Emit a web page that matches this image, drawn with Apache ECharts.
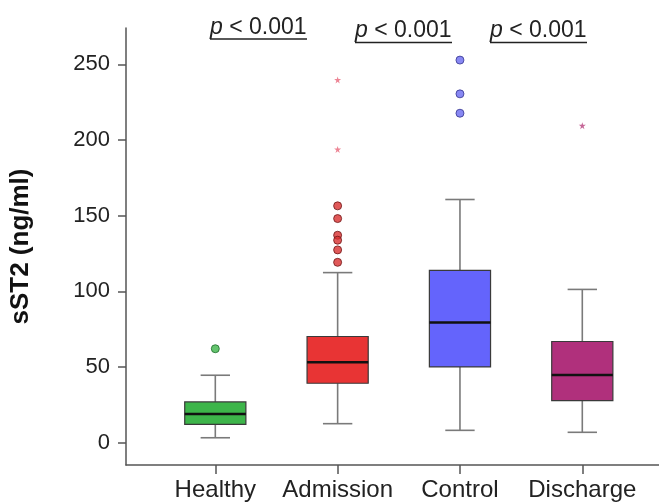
<!DOCTYPE html>
<html>
<head>
<meta charset="utf-8">
<script src="https://cdn.jsdelivr.net/npm/echarts@6/dist/echarts.min.js"></script>
<style>
  html, body { margin: 0; padding: 0; background: #fff; }
  #main { width: 659px; height: 503px; }
</style>
</head>
<body>
<div id="main"></div>
<script>
var categories = ['Healthy', 'Admission', 'Control', 'Discharge'];
// [min, Q1, median, Q3, max]
var boxHealthy = [3.3, 12.1, 19.0, 27.0, 44.6];
var boxAdmission = [12.6, 39.3, 53.2, 70.2, 112.4];
var boxControl = [8.2, 50.1, 79.5, 113.9, 160.7];
var boxDischarge = [6.9, 27.8, 44.8, 66.9, 101.3];
// outliers (circles) and extremes (stars)
var outHealthy = [62.1];
var outAdmission = [156.5, 148.1, 137.1, 133.8, 127.4, 119.2];
var extAdmission = [239.7, 193.8];
var outControl = [252.8, 230.5, 217.7];
var extDischarge = [209.5];
var yTicks = [0, 50, 100, 150, 200, 250];
var boxColors = ['#3db54a', '#e83434', '#6464fc', '#b0307c'];

var starPath = 'path://M50,0 L61,35 L98,35 L68,57 L79,91 L50,70 L21,91 L32,57 L2,35 L39,35 Z';

var boxes = [boxHealthy, boxAdmission, boxControl, boxDischarge];
var boxData = boxes.map(function (b, i) {
    return [i].concat(b);
});

function pts(idx, arr) {
    return arr.map(function (v) { return [idx, v]; });
}

var pText = {
    rich: {
        i: { fontStyle: 'italic', fontFamily: 'Liberation Sans', fontSize: 23, fill: '#222' },
        n: { fontFamily: 'Liberation Sans', fontSize: 23, fill: '#222' }
    },
    text: '{i|p}{n| < 0.001}'
};

var myChart = echarts.init(document.getElementById('main'));
var option = {
    animation: false,
    backgroundColor: '#fff',
    grid: {
        left: 116.7,
        right: 0,
        top: 28,
        bottom: 38
    },
    xAxis: {
        type: 'value',
        min: -0.73,
        max: 3.627,
        splitLine: { show: false },
        axisLine: { onZero: false, lineStyle: { color: '#555', width: 1.5 } },
        axisTick: {
            length: 9,
            customValues: [0, 1, 2, 3],
            lineStyle: { color: '#555', width: 1.5 }
        },
        axisLabel: {
            customValues: [0, 1, 2, 3],
            margin: 13,
            fontFamily: 'Liberation Sans',
            fontSize: 24,
            color: '#222',
            formatter: function (v) { return categories[Math.round(v)]; }
        }
    },
    yAxis: {
        type: 'value',
        min: -14.7,
        max: 274,
        name: 'sST2 (ng/ml)',
        nameLocation: 'middle',
        nameRotate: 90,
        nameGap: 92,
        nameTextStyle: {
            fontFamily: 'Liberation Sans',
            fontWeight: 'bold',
            fontSize: 26,
            color: '#111'
        },
        splitLine: { show: false },
        axisLine: { show: true, onZero: false, lineStyle: { color: '#555', width: 1.5 } },
        axisTick: {
            show: true,
            length: 8,
            customValues: yTicks,
            lineStyle: { color: '#555', width: 1.5 }
        },
        axisLabel: {
            customValues: yTicks,
            margin: 16,
            fontFamily: 'Liberation Sans',
            fontSize: 22,
            color: '#222'
        }
    },
    series: [
        {
            type: 'custom',
            name: 'box',
            data: boxData,
            renderItem: function (params, api) {
                var x = api.value(0);
                var band = api.size([1, 0])[0];
                var half = band * 0.25;
                var capHalf = band * 0.12;
                var pMin = api.coord([x, api.value(1)]);
                var pQ1 = api.coord([x, api.value(2)]);
                var pMed = api.coord([x, api.value(3)]);
                var pQ3 = api.coord([x, api.value(4)]);
                var pMax = api.coord([x, api.value(5)]);
                var cx = pMin[0];
                var whisker = { stroke: '#7a7a7a', lineWidth: 1.6 };
                return {
                    type: 'group',
                    children: [
                        { type: 'line', shape: { x1: cx, y1: pMin[1], x2: cx, y2: pQ1[1] }, style: whisker },
                        { type: 'line', shape: { x1: cx, y1: pQ3[1], x2: cx, y2: pMax[1] }, style: whisker },
                        { type: 'line', shape: { x1: cx - capHalf, y1: pMin[1], x2: cx + capHalf, y2: pMin[1] }, style: whisker },
                        { type: 'line', shape: { x1: cx - capHalf, y1: pMax[1], x2: cx + capHalf, y2: pMax[1] }, style: whisker },
                        {
                            type: 'rect',
                            shape: { x: cx - half, y: pQ3[1], width: half * 2, height: pQ1[1] - pQ3[1] },
                            style: { fill: boxColors[params.dataIndex], stroke: '#3a3a3a', lineWidth: 1.2 }
                        },
                        {
                            type: 'line',
                            shape: { x1: cx - half, y1: pMed[1], x2: cx + half, y2: pMed[1] },
                            style: { stroke: '#111', lineWidth: 2.5 }
                        }
                    ]
                };
            }
        },
        {
            type: 'scatter',
            data: pts(0, outHealthy),
            symbolSize: 8,
            itemStyle: { color: '#3db54a', borderColor: '#1d6b2a', borderWidth: 1 }
        },
        {
            type: 'scatter',
            data: pts(1, outAdmission),
            symbolSize: 8,
            itemStyle: { color: '#d83030', borderColor: '#6e1616', borderWidth: 1 }
        },
        {
            type: 'scatter',
            data: pts(1, extAdmission),
            symbol: starPath,
            symbolSize: 7,
            itemStyle: { color: '#e8677a' }
        },
        {
            type: 'scatter',
            data: pts(2, outControl),
            symbolSize: 8,
            itemStyle: { color: '#6a6af0', borderColor: '#35358f', borderWidth: 1 }
        },
        {
            type: 'scatter',
            data: pts(3, extDischarge),
            symbol: starPath,
            symbolSize: 7,
            itemStyle: { color: '#b8427e' }
        }
    ],
    graphic: [
        { type: 'text', left: 210, top: 16, style: pText },
        { type: 'line', shape: { x1: 210, y1: 39, x2: 307, y2: 39 }, style: { stroke: '#222', lineWidth: 1.3 } },
        { type: 'text', left: 355, top: 19.5, style: pText },
        { type: 'line', shape: { x1: 355, y1: 42.5, x2: 452, y2: 42.5 }, style: { stroke: '#222', lineWidth: 1.3 } },
        { type: 'text', left: 490, top: 19.5, style: pText },
        { type: 'line', shape: { x1: 490, y1: 42.5, x2: 587, y2: 42.5 }, style: { stroke: '#222', lineWidth: 1.3 } }
    ]
};
myChart.setOption(option);
</script>
</body>
</html>
